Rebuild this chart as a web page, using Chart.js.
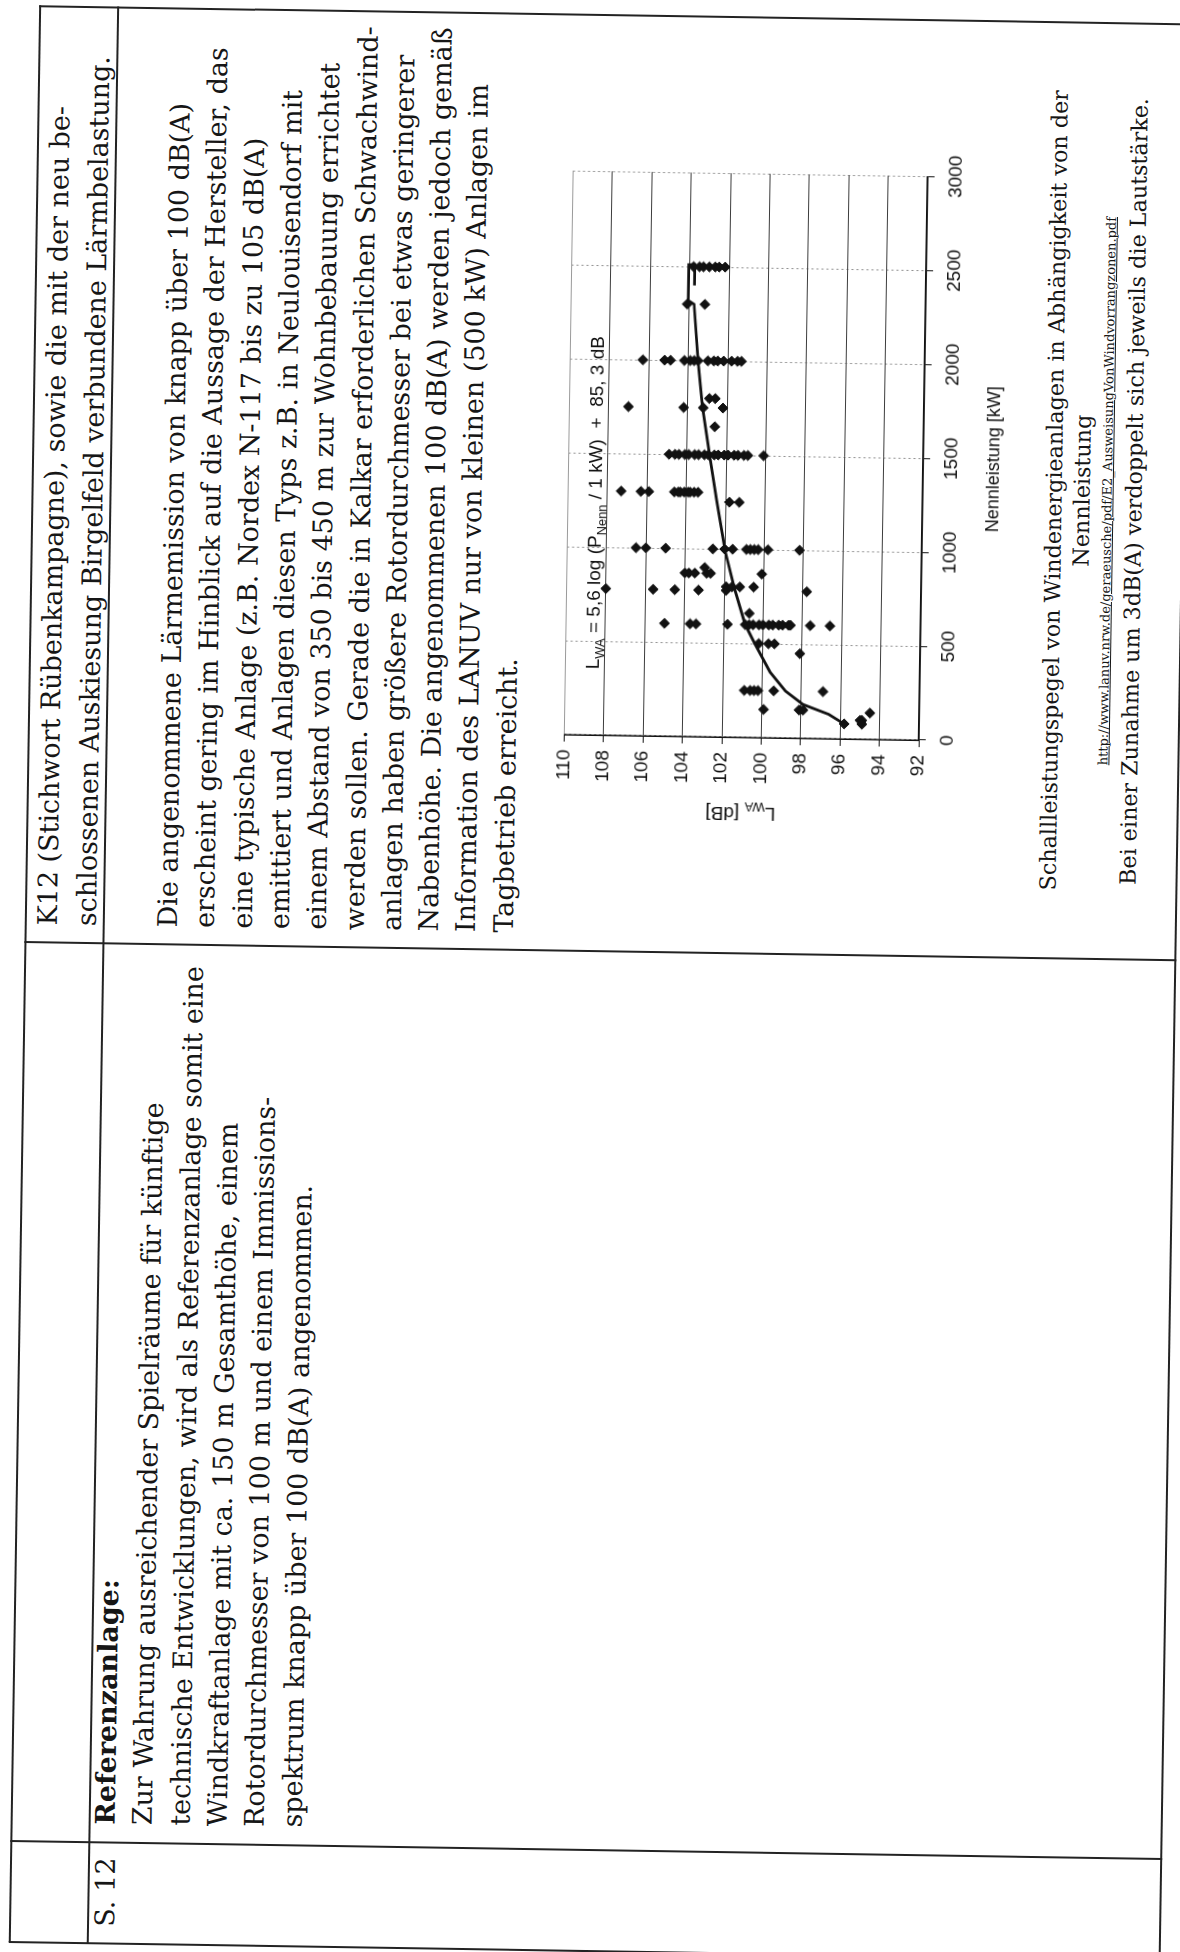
<!DOCTYPE html>
<html lang="de">
<head>
<meta charset="UTF-8">
<title>Schallleistungspegel von Windenergieanlagen</title>
<script src="https://cdn.jsdelivr.net/npm/chart.js"></script>
<style>
  html, body { margin: 0; padding: 0; background: #fff; }
  body { width: 1180px; height: 1952px; overflow: hidden; position: relative; }

  /* scanned page is slightly tilted */
  .page {
    position: absolute; left: 0; top: 0;
    width: 1180px; height: 1952px;
    transform-origin: 590px 976px;
    transform: rotate(0.9deg);
  }

  /* the document itself is landscape, turned onto the portrait page */
  .land {
    position: absolute; left: 0; top: 0;
    width: 1952px; height: 1180px;
    transform-origin: 0 0;
    transform: translate(0, 1952px) rotate(-90deg);
    font-family: "DejaVu Serif", serif;
    color: #161616;
  }

  .line { position: absolute; background: #232323; }
  .txt { position: absolute; white-space: nowrap; }
  .center { text-align: center; }
  .url { text-decoration: underline; font-size: 13px; }
  b { font-weight: bold; }

  #chartBox { position: absolute; left: 1127px; top: 541px; width: 685px; height: 459px; }
</style>
</head>
<body>
<div class="page">
  <div class="land">
    <!-- table frame -->
    <div class="line" style="left:1px; top:24px; width:1937px; height:2px;"></div>
    <div class="line" style="left:1px; top:1174px; width:1937px; height:2px;"></div>
    <div class="line" style="left:0px; top:24px; width:2px; height:1152px;"></div>
    <div class="line" style="left:1936px; top:24px; width:2px; height:1152px;"></div>
    <div class="line" style="left:101px; top:24px; width:2px; height:1152px;"></div>
    <div class="line" style="left:1000px; top:24px; width:2px; height:1152px;"></div>
    <div class="line" style="left:1px; top:102px; width:1937px; height:2px;"></div>

    <div class="txt" id="tS12" style="left:18px;">S. 12</div>

    <div class="txt" id="tRef" style="left:120px;"><b>Referenzanlage:</b><br>Zur Wahrung ausreichender Spielräume für künftige<br>technische Entwicklungen, wird als Referenzanlage somit eine<br>Windkraftanlage mit ca. 150 m Gesamthöhe, einem<br>Rotordurchmesser von 100 m und einem Immissions-<br>spektrum knapp über 100 dB(A) angenommen.</div>

    <div class="txt" id="tK12" style="left:1018px;">K12 (Stichwort Rübenkampagne), sowie die mit der neu be-<br>schlossenen Auskiesung Birgelfeld verbundene Lärmbelastung.</div>

    <div class="txt" id="tPara" style="left:1018px;">Die angenommene Lärmemission von knapp über 100 dB(A)<br>erscheint gering im Hinblick auf die Aussage der Hersteller, das<br>eine typische Anlage (z.B. Nordex N-117 bis zu 105 dB(A)<br>emittiert und Anlagen diesen Typs z.B. in Neulouisendorf mit<br>einem Abstand von 350 bis 450 m zur Wohnbebauung errichtet<br>werden sollen. Gerade die in Kalkar erforderlichen Schwachwind-<br>anlagen haben größere Rotordurchmesser bei etwas geringerer<br>Nabenhöhe. Die angenommenen 100 dB(A) werden jedoch gemäß<br>Information des LANUV nur von kleinen (500 kW) Anlagen im<br>Tagbetrieb erreicht.</div>

    <div id="chartBox"><canvas id="lwaChart" width="685" height="459"></canvas></div>

    <div class="txt center" id="tCap1" style="left:1018px; width:902px;">Schallleistungspegel von Windenergieanlagen in Abhängigkeit von der</div>
    <div class="txt center" id="tCap2" style="left:1018px; width:902px;">Nennleistung</div>
    <div class="txt center url" id="tUrl" style="left:1018px; width:902px;">http://www.lanuv.nrw.de/geraeusche/pdf/E2_AusweisungVonWindvorrangzonen.pdf</div>
    <div class="txt center" id="tCap3" style="left:1018px; width:902px;">Bei einer Zunahme um 3dB(A) verdoppelt sich jeweils die Lautstärke.</div>
  </div>
</div>

<script>
// ---- chart data ----
const kwTicks = [0, 500, 1000, 1500, 2000, 2500, 3000];
const dbTicks = [92, 94, 96, 98, 100, 102, 104, 106, 108, 110];

// Nennleistung [kW] of each plant
const powerKW = [
  2500, 2500, 2500, 2500, 2500, 2500, 2500,
  2300, 2300,
  2000, 2000, 2000, 2000, 2000, 2000, 2000, 2000, 2000, 2000, 2000, 2000, 2000, 2000,
  1800, 1800,
  1750, 1750, 1750, 1750,
  1650,
  1500, 1500, 1500, 1500, 1500, 1500, 1500, 1500, 1500, 1500, 1500, 1500, 1500, 1500, 1500, 1500, 1500, 1500,
  1300, 1300, 1300, 1300, 1300, 1300, 1300, 1300, 1300, 1300, 1300,
  1250, 1250,
  1000, 1000, 1000, 1000, 1000, 1000, 1000, 1000, 1000, 1000, 1000, 1000,
  900,
  870, 870, 870, 870, 870, 870,
  800, 800, 800, 800,
  780, 780, 780, 780, 780, 780,
  660,
  600, 600, 600, 600, 600, 600, 600, 600, 600, 600, 600, 600, 600, 600, 600, 600, 600,
  500, 500, 500,
  450,
  250, 250, 250, 250, 250, 250,
  150, 150, 150,
  140,
  100, 100,
  80, 80
];

// Schallleistungspegel L_WA [dB] of each plant
const levelDB = [
  103.8, 103.5, 103.3, 103.0, 102.7, 102.5, 102.2,
  104.1, 103.2,
  106.3, 105.2, 104.9, 104.2, 103.9, 103.7, 103.5, 103.0, 102.7, 102.5, 102.2, 101.8, 101.5, 101.3,
  102.9, 102.6,
  107.0, 104.2, 103.2, 102.2,
  102.6,
  104.9, 104.6, 104.4, 104.1, 103.9, 103.6, 103.4, 103.1, 102.9, 102.6, 102.4, 102.1, 101.9, 101.6, 101.4, 101.1, 100.9, 100.1,
  107.3, 106.3, 105.9, 104.6, 104.4, 104.3, 104.1, 103.9, 103.8, 103.6, 103.4,
  101.8, 101.3,
  106.5, 106.0, 105.0, 102.6, 102.0, 101.6, 100.9, 100.7, 100.5, 100.3, 99.8, 98.2,
  103.0,
  104.0, 103.8, 103.5, 102.9, 102.7, 100.1,
  101.9, 101.6, 101.2, 100.5,
  108.0, 105.6, 104.5, 103.3, 101.9, 97.8,
  100.7,
  105.0, 103.7, 103.4, 101.8, 100.9, 100.7, 100.5, 100.2, 100.0, 99.7, 99.5, 99.2, 99.0, 98.7, 98.6, 97.6, 96.6,
  100.2, 99.7, 99.4,
  98.1,
  100.9, 100.6, 100.4, 100.2, 99.4, 96.9,
  99.9, 98.1, 97.9,
  94.5,
  94.9, 95.0,
  95.8, 94.9
];

// trend curve as drawn on the scan (incl. the little hook at 2500 kW)
const trendKW = [80, 130, 180, 250, 350, 500, 600, 800, 1000, 1260, 1500, 1760, 2000, 2300, 2320, 2510, 2510, 2400];
const trendDB = [95.8, 96.6, 97.9, 98.8, 99.6, 100.4, 100.9, 101.5, 102.0, 102.45, 102.85, 103.25, 103.5, 103.75, 104.05, 104.05, 103.75, 103.75];

// where the formula label sits, in data units (kW, dB)
const formulaAt = [350, 108.3];

// ---- page text sizing ----
const probe = document.createElement("canvas").getContext("2d");
function sizeFor(text, target) {
    probe.font = '100px "DejaVu Serif"';
    return 100 * target / probe.measureText(text).width;
}
const bodySize = sizeFor("Die angenommene Lärmemission von knapp über 100 dB(A)", 825);
const capSize = sizeFor("Schallleistungspegel von Windenergieanlagen in Abhängigkeit von der", 801);

function place(id, baseline, size, lineH) {
    const el = document.getElementById(id);
    el.style.fontSize = size + "px";
    el.style.lineHeight = lineH + "px";
    const off = (lineH - 1.164 * size) / 2 + 0.928 * size;
    el.style.top = (baseline - off) + "px";
}
place("tS12", 129, bodySize, 37.3);
place("tRef", 128, bodySize, 37.3);
place("tK12", 56, bodySize, 39);
place("tPara", 176, bodySize, 37.3);
place("tCap1", 1054, capSize, 30);
place("tCap2", 1082, capSize, 30);
place("tCap3", 1134, capSize, 30);
place("tUrl", 1104, 13, 16);

// ---- chart ----
const SANS = '"Liberation Sans", Arial, sans-serif';

function drawRich(ctx, parts, x, y, size, align) {
    let total = 0;
    parts.forEach(([t, sub]) => {
        ctx.font = (sub ? size * 0.68 : size) + "px " + SANS;
        total += ctx.measureText(t).width;
    });
    let cx = align === "center" ? x - total / 2 : x;
    parts.forEach(([t, sub]) => {
        ctx.font = (sub ? size * 0.68 : size) + "px " + SANS;
        ctx.fillText(t, cx, sub ? y + size * 0.28 : y);
        cx += ctx.measureText(t).width;
    });
}

const labelPlugin = {
    id: "labels",
    afterDraw(chart) {
        const { ctx, chartArea, scales } = chart;
        ctx.save();
        ctx.fillStyle = "#111";
        ctx.textBaseline = "alphabetic";
        drawRich(ctx, [["L", 0], ["WA", 1], [" = 5,6 log (P", 0], ["Nenn", 1], [" / 1 kW)  +  85, 3 dB", 0]],
            scales.x.getPixelForValue(formulaAt[0]), scales.y.getPixelForValue(formulaAt[1]), 19, "left");

        // x axis title
        drawRich(ctx, [["Nennleistung [kW]", 0]], (chartArea.left + chartArea.right) / 2, chartArea.bottom + 76, 18, "center");

        // y axis title
        ctx.translate(chartArea.left - 70, (chartArea.top + chartArea.bottom) / 2);
        ctx.rotate(-Math.PI / 2);
        drawRich(ctx, [["L", 0], ["WA", 1], [" [dB]", 0]], 0, 0, 19, "center");
        ctx.restore();
    }
};

const chart = new Chart(document.getElementById("lwaChart").getContext("2d"), {
    type: "scatter",
    data: {
        datasets: [{
            label: "Trend",
            data: trendKW.map((p, i) => ({ x: p, y: trendDB[i] })),
            showLine: true,
            borderColor: "#111",
            borderWidth: 2.8,
            pointRadius: 0,
            fill: false
        }, {
            label: "Anlagen",
            data: powerKW.map((p, i) => ({ x: p, y: levelDB[i] })),
            pointStyle: "rectRot",
            pointRadius: 5,
            backgroundColor: "#111",
            borderColor: "#111",
            borderWidth: 1
        }]
    },
    options: {
        responsive: false,
        animation: false,
        layout: { padding: { top: 10, right: 25, left: 0, bottom: 0 } },
        plugins: { legend: { display: false }, tooltip: { enabled: false } },
        scales: {
            x: {
                type: "linear",
                min: 0,
                max: 3000,
                afterBuildTicks: (s) => { s.ticks = kwTicks.map(v => ({ value: v })); },
                afterFit: (s) => { s.height = 85; },
                grid: { color: "#8c8c8c", lineWidth: 1, tickLength: 7, tickColor: "#111" },
                border: { display: true, color: "#111", width: 1.5, dash: [2, 3] },
                ticks: {
                    color: "#111", font: { family: SANS, size: 19 }, padding: 10, maxRotation: 0,
                    callback: (v) => String(v)
                }
            },
            y: {
                min: 92,
                max: 110,
                afterBuildTicks: (s) => { s.ticks = dbTicks.map(v => ({ value: v })); },
                afterFit: (s) => { s.width = 90; },
                grid: {
                    color: (c) => (c.tick && c.tick.value === 110 ? "#9a9a9a" : "#3c3c3c"),
                    lineWidth: 1, tickLength: 7, tickColor: "#111"
                },
                border: { display: true, color: "#111", width: 1.5 },
                ticks: {
                    color: "#111", font: { family: SANS, size: 19 }, padding: 8,
                    callback: (v) => String(v)
                }
            }
        }
    },
    plugins: [labelPlugin]
});
</script>
</body>
</html>
